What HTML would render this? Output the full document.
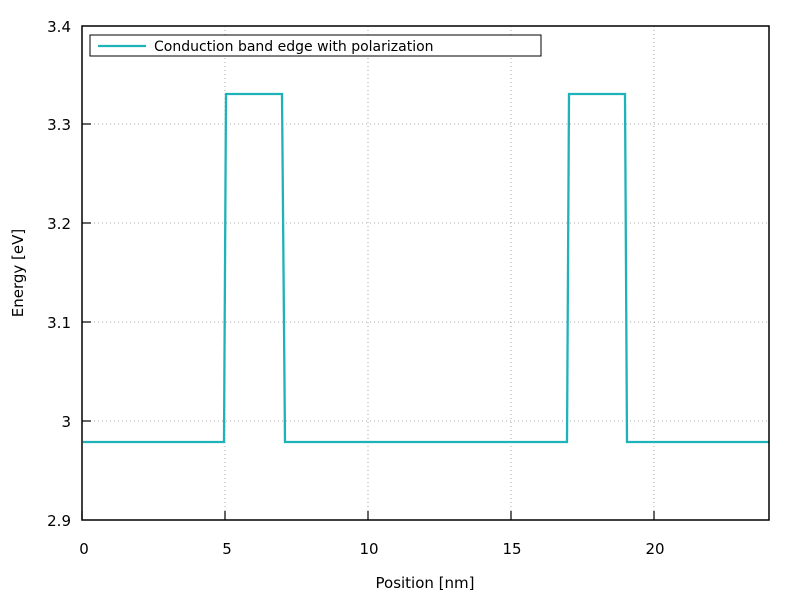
<!DOCTYPE html>
<html><head><style>body{margin:0;background:#fff}svg{display:block}</style></head><body>
<svg width="800" height="600" xmlns="http://www.w3.org/2000/svg" font-family="DejaVu Sans, Liberation Sans, sans-serif" font-size="14">
<g stroke="#aaa" stroke-dasharray="1,3" stroke-width="1">
<line x1="225" y1="26" x2="225" y2="520"/><line x1="368" y1="26" x2="368" y2="520"/><line x1="511" y1="26" x2="511" y2="520"/><line x1="654" y1="26" x2="654" y2="520"/>
<line x1="82" y1="421" x2="769" y2="421"/><line x1="82" y1="322" x2="769" y2="322"/><line x1="82" y1="223" x2="769" y2="223"/><line x1="82" y1="124" x2="769" y2="124"/>
</g>
<polyline fill="none" stroke="#1fb2b9" stroke-width="2.3" points="83,442 224,442 226,94 282,94 285,442 567,442 569,94 625,94 627,442 769,442"/>
<rect x="82" y="26" width="687" height="494" fill="none" stroke="#000" stroke-width="1.5"/>
<g stroke="#000" stroke-width="1.2">
<line x1="82" y1="421" x2="91" y2="421"/><line x1="82" y1="322" x2="91" y2="322"/><line x1="82" y1="223" x2="91" y2="223"/><line x1="82" y1="124" x2="91" y2="124"/>
<line x1="82" y1="520" x2="82" y2="511"/><line x1="225" y1="520" x2="225" y2="511"/><line x1="368" y1="520" x2="368" y2="511"/><line x1="511" y1="520" x2="511" y2="511"/><line x1="654" y1="520" x2="654" y2="511"/>
</g>
<g text-anchor="end" font-size="15">
<text x="71" y="526">2.9</text><text x="71" y="427">3</text><text x="71" y="328">3.1</text><text x="71" y="229">3.2</text><text x="71" y="130">3.3</text><text x="71" y="32">3.4</text>
</g>
<g text-anchor="middle" font-size="15">
<text x="84" y="554">0</text><text x="227" y="554">5</text><text x="369" y="554">10</text><text x="512" y="554">15</text><text x="655" y="554">20</text>
<text x="425" y="588">Position [nm]</text>
<text transform="translate(23,273) rotate(-90)">Energy [eV]</text>
</g>
<rect x="90" y="35" width="451" height="21" fill="#fff" stroke="#000" stroke-width="1"/>
<line x1="98" y1="46" x2="146" y2="46" stroke="#1fb2b9" stroke-width="2.3"/>
<text x="154" y="51" font-size="14">Conduction band edge with polarization</text>
</svg>
</body></html>
